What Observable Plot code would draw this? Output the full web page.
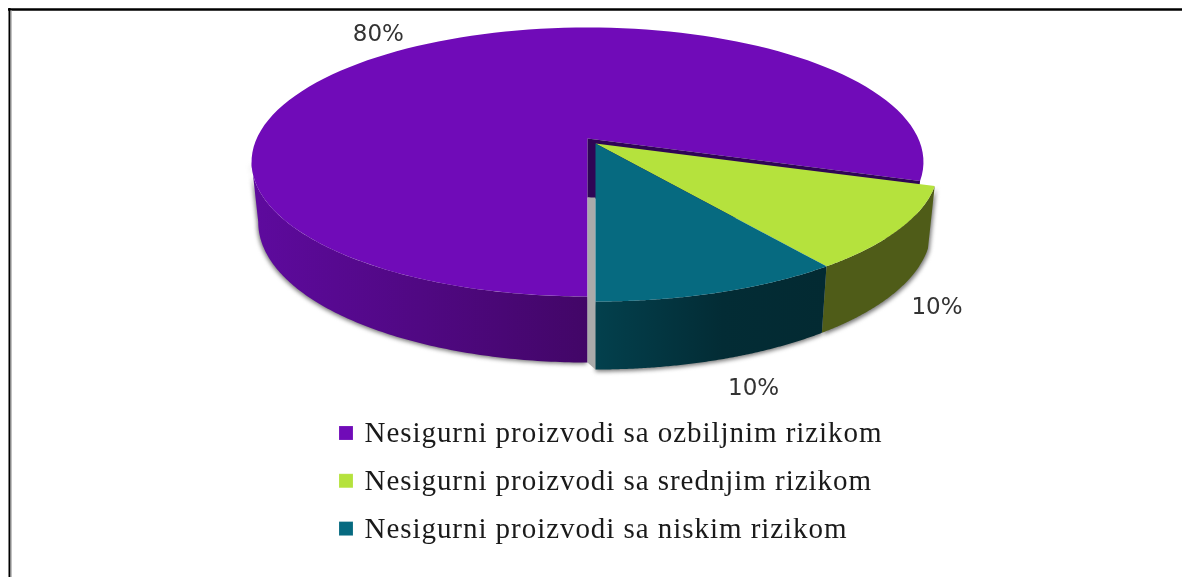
<!DOCTYPE html>
<html>
<head>
<meta charset="utf-8">
<script src="https://cdn.jsdelivr.net/npm/d3@7"></script>
<script src="https://cdn.jsdelivr.net/npm/@observablehq/plot@0.6"></script>
<style>html,body{margin:0;padding:0;background:#fff}svg{display:block}</style>
</head>
<body>
<div id="chart"></div>
<script>
const categories = ["Nesigurni proizvodi sa ozbiljnim rizikom","Nesigurni proizvodi sa srednjim rizikom","Nesigurni proizvodi sa niskim rizikom"];
const shares = [80,10,10];
const tickLabels = ["80%","10%","10%"];
const topColors = ["#700bb8","#b5e23d","#066a80"];

const W = 1182, H = 577;
// pie camera: unit disk -> screen
const cam = {cx:587, R:330.8, c:-0.1747, a:106.3, b:138};
const blast = {dx:8, dy:5, kx:1.02, ky:1.0};
const rad = d => d*Math.PI/180;
// angle: degrees measured from 6 o'clock going counter-clockwise (towards the right)
function upper(ang, r, ex){
  const u = r*Math.sin(rad(ang)), v = r*Math.cos(rad(ang)), w = 1+cam.c*v;
  const X = cam.R*u/w, Y = (cam.a*v+cam.b)/w;
  if(!ex) return {x:cam.cx+X, y:Y, v};
  return {x:cam.cx+blast.dx+X*blast.kx, y:cam.b+blast.dy+(Y-cam.b)*blast.ky, v};
}
function lower(p, ex){
  const c0 = cam.cx+(ex?blast.dx:0);
  return {x:c0+(p.x-c0)*0.98, y:p.y+(ex?60:59)+(ex?8:7)*p.v, v:p.v};
}
const centre = ex => upper(0,0,ex);
const arc = (a0,a1,ex) => d3.range(0,121).map(i=>upper(a0+(a1-a0)*i/120,1,ex));
const wall = (a0,a1,ex) => { const t=arc(a0,a1,ex); return [...t,...t.map(p=>lower(p,ex)).reverse()]; };

// slice angles from the values (teal first, then green, purple takes the rest)
const angLow = shares[2]/100*360;
const angMid = angLow + shares[1]/100*360;

const poly = (pts,fill,opt={}) => Plot.line(pts,{x:"x",y:"y",fill,stroke:"none",...opt});
const blurred = (i,s,v,d,c,next)=>{const g=next(i,s,v,d,c); g.style.filter="blur(2px)"; return g;};
const spaced = (i,s,v,d,c,next)=>{const g=next(i,s,v,d,c); g.style.letterSpacing="0.95px"; return g;};

const defs = () => {
  const ns="http://www.w3.org/2000/svg";
  const dfs=document.createElementNS(ns,"defs");
  const add=(id,stops)=>{
    const g=document.createElementNS(ns,"linearGradient");
    g.setAttribute("id",id);g.setAttribute("x1","0");g.setAttribute("x2","1");g.setAttribute("y1","0");g.setAttribute("y2","0");
    stops.forEach(([o,col])=>{const s=document.createElementNS(ns,"stop");s.setAttribute("offset",o);s.setAttribute("stop-color",col);g.appendChild(s);});
    dfs.appendChild(g);
  };
  add("wp",[[0,"#5e0a9e"],[1,"#420667"]]);
  add("wt",[[0,"#03404d"],[0.55,"#032c35"],[1,"#032a32"]]);
  return dfs;
};

const purpleWall = wall(-80,0,false).map(p=>({x:p.x,y:p.y}));
const greenWall = wall(angLow,angMid,true);
const tealWall = wall(0,angLow,true);
const purpleTop = [centre(false),...arc(angMid,360,false)];
const greenTop = [centre(true),...arc(angLow,angMid,true)];
const tealTop = [centre(true),...arc(0,angLow,true)];
const rimMid = upper(angMid,1,false);
const innerWall = [centre(false),rimMid,lower(rimMid,false),lower(centre(false),false)];
const sliver = [lower(centre(false),false),centre(true),lower(upper(0,1,true),true),lower(upper(0,1,false),false)]
  .map((p,i)=>i==1?{x:p.x,y:lower(centre(false),false).y}:p);

// value labels, anchored on each slice's mid angle
const labelData = [
  {t:tickLabels[0],p:upper(-(360-angMid)/2,1.24,false),ex:0,dx:-4,dy:6},
  {t:tickLabels[1],p:upper((angLow+angMid)/2,1.14,true),ex:62,dx:-11,dy:2},
  {t:tickLabels[2],p:upper(angLow/2,1.13,true),ex:66,dx:13,dy:6}
].map(d=>({t:d.t,x:d.p.x+d.dx,y:d.p.y+d.ex+d.dy}));

const legendOrigin = {x:345.5, y:432.5, step:47.8, gap:18.5};
const legend = categories.map((name,i)=>({name,color:topColors[i],x:legendOrigin.x,y:legendOrigin.y+i*legendOrigin.step}));

const plot = Plot.plot({
  width:W,height:H,margin:0,
  x:{domain:[0,W],range:[0,W],axis:null},
  y:{domain:[0,H],range:[0,H],axis:null},
  style:{background:"#fff",filter:"blur(0.45px)"},
  marks:[
    defs,
    Plot.ruleY([9],{x1:8,x2:W,stroke:"#000",strokeWidth:2.5}),
    Plot.ruleX([9],{y1:8,y2:H,stroke:"#000",strokeWidth:2}),
    Plot.ruleX([10.6],{y1:10,y2:H,stroke:"#999",strokeWidth:1}),
    // soft shadows under the walls
    poly(purpleWall,"#777",{dx:-1,dy:1.5,render:blurred}),
    poly(greenWall,"#777",{dx:1.5,dy:2,render:blurred}),
    poly(tealWall,"#777",{dy:2,render:blurred}),
    poly(purpleWall,"url(#wp)"),
    poly(purpleTop,topColors[0]),
    poly(innerWall,"#2f0555"),
    poly(sliver,"#aaaaaa"),
    poly(greenWall,"#4f5c18"),
    poly(tealWall,"url(#wt)"),
    poly(greenTop,topColors[1]),
    poly(tealTop,topColors[2]),
    Plot.text(labelData,{x:"x",y:"y",text:"t",fontFamily:"DejaVu Sans",fontSize:23,fill:"#333"}),
    Plot.dot(legend,{x:"x",y:"y",symbol:"square",r:7.9,fill:"color",stroke:"#fff",strokeOpacity:.3,strokeWidth:.5}),
    Plot.text(legend,{x:d=>d.x+legendOrigin.gap,y:"y",text:"name",textAnchor:"start",fontFamily:"Liberation Serif",fontSize:29,fill:"#1a1a1a",render:spaced})
  ]
});
document.getElementById("chart").appendChild(plot);
</script>
</body>
</html>
